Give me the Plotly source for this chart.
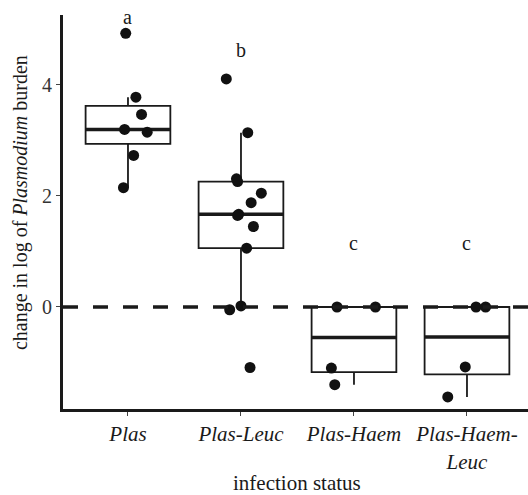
import numpy as np
import plotly.graph_objects as go

# ---- data ----
categories = ["Plas", "Plas-Leuc", "Plas-Haem", "Plas-Haem-Leuc"]
tick_labels = ["<i>Plas</i>", "<i>Plas-Leuc</i>", "<i>Plas-Haem</i>", "<i>Plas-Haem-</i><br><i>Leuc</i>"]

plas = [4.93, 3.78, 3.47, 3.20, 3.15, 2.73, 2.15]
plas_jitter = [-0.02, 0.07, 0.12, -0.03, 0.17, 0.05, -0.04]

plas_leuc = [4.11, 3.14, 2.31, 2.26, 2.05, 1.88, 1.67, 1.65, 1.45, 1.06, 0.02, -0.05, -1.09]
plas_leuc_jitter = [-0.13, 0.06, -0.04, -0.03, 0.18, 0.09, -0.02, -0.03, 0.11, 0.05, 0.00, -0.10, 0.08]

plas_haem = [0.0, 0.0, -1.10, -1.40]
plas_haem_jitter = [-0.15, 0.19, -0.20, -0.17]

plas_haem_leuc = [0.0, 0.0, -1.08, -1.62]
plas_haem_leuc_jitter = [0.08, 0.165, -0.015, -0.17]

letters = ["a", "b", "c", "c"]
letter_y = [5.22, 4.63, 1.15, 1.15]

groups = [plas, plas_leuc, plas_haem, plas_haem_leuc]
jitters = [plas_jitter, plas_leuc_jitter, plas_haem_jitter, plas_haem_leuc_jitter]

FONT = "Liberation Serif"
INK = "#1a1a1a"
BOX_W = 0.75

fig = go.Figure()


def box_stats(vals):
    v = np.array(vals, dtype=float)
    q1, med, q3 = np.percentile(v, [25, 50, 75])
    iqr = q3 - q1
    lo = v[v >= q1 - 1.5 * iqr].min()
    hi = v[v <= q3 + 1.5 * iqr].max()
    return q1, med, q3, lo, hi


for i, vals in enumerate(groups):
    q1, med, q3, lo, hi = box_stats(vals)
    fig.add_trace(go.Box(
        x=[i], q1=[q1], median=[med], q3=[q3], lowerfence=[lo], upperfence=[hi],
        orientation="v", width=BOX_W, whiskerwidth=0, boxpoints=False,
        fillcolor="white", line=dict(color=INK, width=1.8),
        hoverinfo="skip", showlegend=False,
    ))
    fig.add_trace(go.Scatter(
        x=[i - BOX_W / 2, i + BOX_W / 2], y=[med, med], mode="lines",
        line=dict(color=INK, width=3.5), hoverinfo="skip", showlegend=False,
    ))

# dashed zero reference line
fig.add_shape(type="line", xref="paper", x0=0, x1=1, yref="y", y0=0, y1=0,
              line=dict(color=INK, width=3.5, dash="15px,15px"), layer="above")

for i, (vals, jit) in enumerate(zip(groups, jitters)):
    fig.add_trace(go.Scatter(
        x=[i + j for j in jit], y=vals, mode="markers",
        marker=dict(color="#111111", size=11, line=dict(width=0)),
        hoverinfo="skip", showlegend=False, cliponaxis=False,
    ))

for i, (lab, ly) in enumerate(zip(letters, letter_y)):
    fig.add_annotation(x=i, y=ly, text=lab, showarrow=False,
                       font=dict(family=FONT, size=20, color=INK),
                       xanchor="center", yanchor="middle")

fig.add_annotation(xref="paper", yref="paper", x=-0.09, y=0.523,
                   text="change in log of <i>Plasmodium</i> burden", textangle=-90,
                   showarrow=False, font=dict(family=FONT, size=20, color=INK),
                   xanchor="center", yanchor="middle")
fig.add_annotation(xref="paper", yref="paper", x=0.504, y=-0.187,
                   text="infection status", showarrow=False,
                   font=dict(family=FONT, size=21, color=INK),
                   xanchor="center", yanchor="middle")

fig.update_layout(
    width=528, height=495,
    margin=dict(l=63, r=0, t=15, b=86),
    paper_bgcolor="white", plot_bgcolor="white",
    font=dict(family=FONT, size=20, color=INK),
    showlegend=False,
    xaxis=dict(range=[-0.575, 3.54], tickvals=list(range(len(categories))), ticktext=tick_labels,
               showgrid=False, zeroline=False, showline=True, linecolor=INK, linewidth=3,
               ticks="outside", ticklen=4, tickwidth=1, tickcolor="#444",
               tickfont=dict(family=FONT, size=21, color=INK)),
    yaxis=dict(range=[-1.838, 5.261], tickvals=[0, 2, 4],
               showgrid=False, zeroline=False, showline=True, linecolor=INK, linewidth=3,
               ticks="outside", ticklen=4, tickwidth=1, tickcolor="#444",
               tickfont=dict(family=FONT, size=20, color="#333")),
)

fig.write_html(
    "out.html",
    config={"displayModeBar": False},
    post_script="document.body.style.margin='0';document.body.style.padding='0';document.body.style.overflow='hidden';",
)
